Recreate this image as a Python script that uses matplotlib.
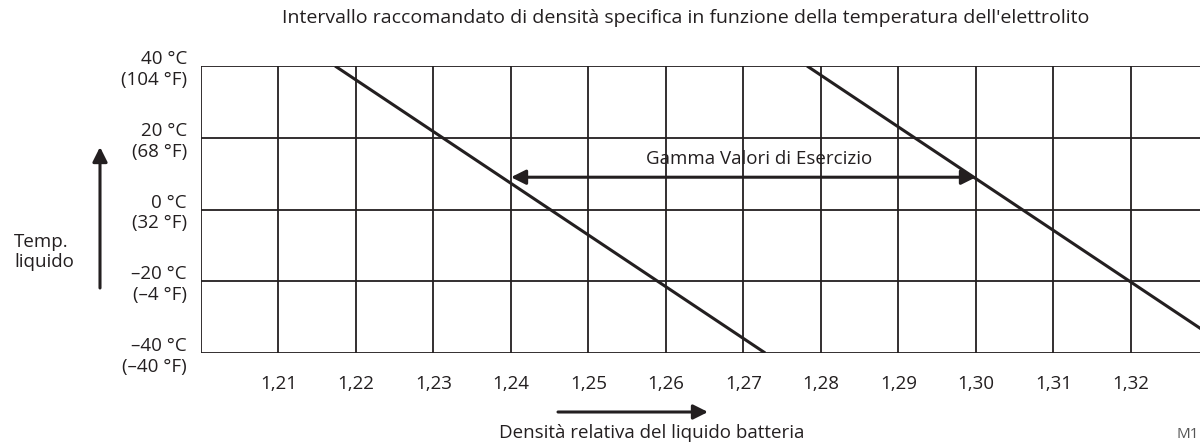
import matplotlib
matplotlib.use("Agg")
import matplotlib.pyplot as plt

plt.rcParams['font.family'] = ['Open Sans', 'DejaVu Sans']

INK = '#231f20'

# Axis values
temps_c = [40, 20, 0, -20, -40]
temp_labels = ['40 °C\n(104 °F)', '20 °C\n(68 °F)', '0 °C\n(32 °F)',
               '–20 °C\n(–4 °F)', '–40 °C\n(–40 °F)']
density_ticks = [1.21, 1.22, 1.23, 1.24, 1.25, 1.26, 1.27, 1.28, 1.29, 1.30, 1.31, 1.32]
density_labels = ['1,21', '1,22', '1,23', '1,24', '1,25', '1,26', '1,27', '1,28',
                  '1,29', '1,30', '1,31', '1,32']

# Limit lines: density at the two end temperatures
line_temps = [40, -40]
low_limit_density = [1.2173, 1.2728]
high_limit_density = [1.2782, 1.3337]

# Operating range arrow
range_temp = 9
range_density = [1.24, 1.30]

title = "Intervallo raccomandato di densità specifica in funzione della temperatura dell'elettrolito"
xlabel = "Densità relativa del liquido batteria"
ylabel = "Temp.\nliquido"
range_label = "Gamma Valori di Esercizio"

FS = 13.5
W, H = 1200, 443
fig = plt.figure(figsize=(W / 100, H / 100), dpi=100)
ax = fig.add_axes([201 / W, 1 - 353 / H, 1007.5 / W, 287 / H])
ax.set_xlim(1.20, 1.33)
ax.set_ylim(-40, 40)

# Grid
for t in temps_c:
    ax.axhline(t, color=INK, lw=1.3, zorder=1)
for d in density_ticks:
    ax.axvline(d, color=INK, lw=1.3, zorder=1)
for s in ax.spines.values():
    s.set_visible(False)
ax.axvline(1.20, color=INK, lw=1.3, zorder=1)

# Limit lines
ax.plot(low_limit_density, line_temps, color=INK, lw=2.2, solid_capstyle='butt', zorder=3)
ax.plot(high_limit_density, line_temps, color=INK, lw=2.2, solid_capstyle='butt', zorder=3)

# Operating range
ax.annotate('', xy=(range_density[0], range_temp), xytext=(range_density[1], range_temp),
            arrowprops=dict(arrowstyle='<|-|>', color=INK, lw=2.2,
                            mutation_scale=22, shrinkA=0, shrinkB=0), zorder=4)
ax.text(1.272, range_temp + 5.1, range_label, ha='center', va='center',
        fontsize=FS, color=INK)

ax.set_xticks(density_ticks)
ax.set_xticklabels(density_labels, fontsize=FS, color=INK)
ax.set_yticks(temps_c)
ax.set_yticklabels(temp_labels, fontsize=FS, color=INK, linespacing=1.2)
ax.tick_params(axis='both', length=0)
ax.tick_params(axis='x', pad=16)
ax.tick_params(axis='y', pad=10)

# Title and axis captions
fig.text(686 / W, 1 - 18 / H, title, ha='center', va='center', fontsize=14, color=INK)
fig.text(652 / W, 1 - 433 / H, xlabel, ha='center', va='center', fontsize=FS, color=INK)
fig.text(14 / W, 1 - 252 / H, ylabel, ha='left', va='center', fontsize=FS, color=INK,
         linespacing=1.1)
fig.text(1176 / W, 1 / H, "M1", ha='left', va='bottom', fontsize=11, color='#555555')

# Direction arrows
fig.add_artist(matplotlib.patches.FancyArrowPatch(
    (100 / W, 1 - 288 / H), (100 / W, 1 - 147 / H), transform=fig.transFigure,
    arrowstyle='-|>', mutation_scale=22, color=INK, lw=2.2, shrinkA=0, shrinkB=0))
fig.add_artist(matplotlib.patches.FancyArrowPatch(
    (558 / W, 1 - 412 / H), (708 / W, 1 - 412 / H), transform=fig.transFigure,
    arrowstyle='-|>', mutation_scale=22, color=INK, lw=2.2, shrinkA=0, shrinkB=0))

fig.savefig('out.png', dpi=100)
